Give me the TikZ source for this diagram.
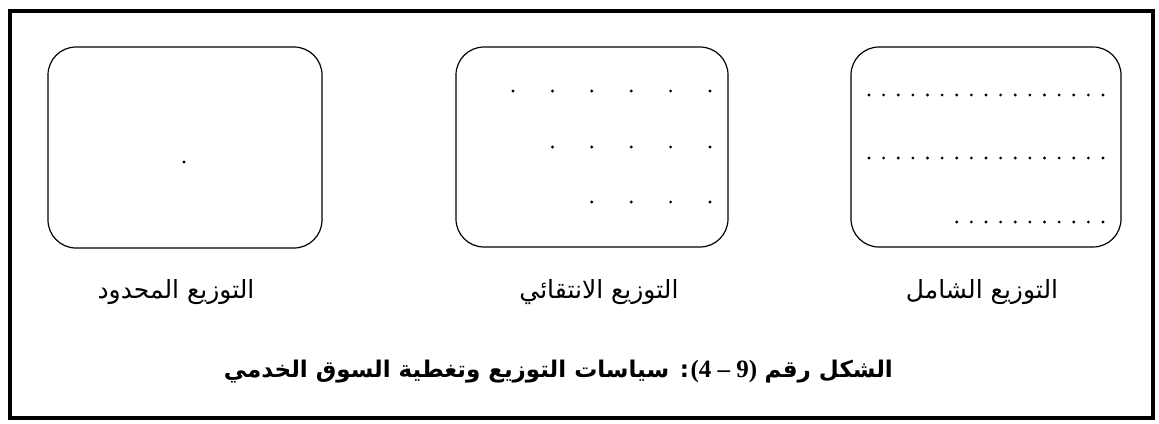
\documentclass[tikz,border=0pt]{standalone}
\usepackage{fontspec}
\TeXXeTstate=1
\newfontfamily\arabicfont[Script=Arabic]{DejaVu Sans}
\newfontfamily\numfont{Liberation Serif}
\begin{document}
\begin{tikzpicture}[x=1pt,y=-1pt,
  frame/.style={draw, line width=4pt},
  box/.style={draw, line width=1.2pt, rounded corners=28pt, inner sep=0pt},
  dotfill/.style={fill=black},
  lbl/.style={font=\arabicfont\fontsize{25}{30}\selectfont, inner sep=0pt, anchor=base},
  captext/.style={font=\arabicfont\bfseries\fontsize{23}{28}\selectfont, inner sep=0pt, anchor=base east},
  capnum/.style={font=\numfont\bfseries\fontsize{25}{30}\selectfont, inner sep=0pt, anchor=base east}]
\useasboundingbox (0,0) rectangle (1159,423);
\draw[frame] (9.5,10.5) rectangle (1153,418);
% boxes
\node[box, minimum width=274pt, minimum height=201pt] (b1) at (185,147.5) {};
\node[box, minimum width=272pt, minimum height=200pt] (b2) at (592,147) {};
\node[box, minimum width=270pt, minimum height=200pt] (b3) at (986,147) {};
% dots: limited
\fill[dotfill] (184,162) circle (1.6);
% dots: selective
\foreach \i in {0,...,5} \fill[dotfill] (513+39.4*\i,91) circle (1.6);
\foreach \i in {1,...,5} \fill[dotfill] (513+39.4*\i,147) circle (1.6);
\foreach \i in {2,...,5} \fill[dotfill] (513+39.4*\i,202) circle (1.6);
% dots: intensive
\foreach \i in {0,...,16} \fill[dotfill] (869+14.625*\i,95) circle (1.6);
\foreach \i in {0,...,16} \fill[dotfill] (869+14.625*\i,158) circle (1.6);
\foreach \i in {6,...,16} \fill[dotfill] (869+14.625*\i,222) circle (1.6);
% labels
\node[lbl] (l1) at (176,298) {\beginR التوزيع المحدود\endR};
\node[lbl] (l2) at (599,298) {\beginR التوزيع الانتقائي\endR};
\node[lbl] (l3) at (982,298) {\beginR التوزيع الشامل\endR};
% caption (right-to-left: right part, number, left part)
\node[captext] (capR) at (893,377) {\beginR الشكل رقم\endR};
\node[capnum] (capN) at ([xshift=-7pt]capR.base west) {(4 – 9)};
\node[captext] (capL) at ([xshift=-1pt]capN.base west) {\beginR: سياسات التوزيع وتغطية السوق الخدمي\endR};
\end{tikzpicture}
\end{document}
